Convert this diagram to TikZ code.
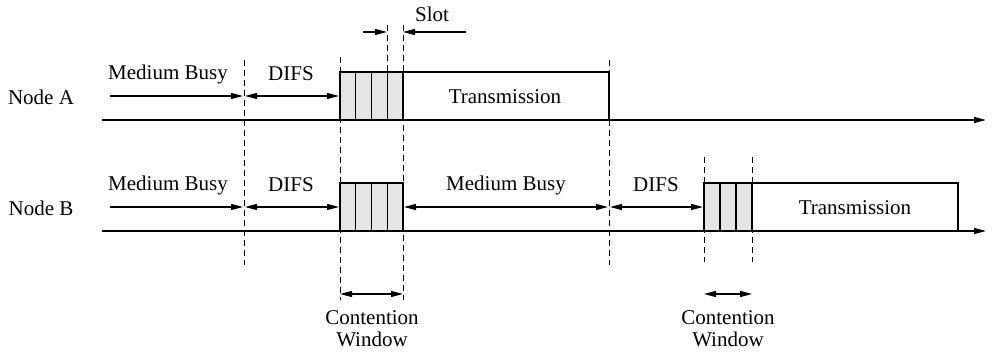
\documentclass[tikz,border=0pt]{standalone}
\usepackage{fontspec}
\setmainfont{Liberation Serif}
\usetikzlibrary{arrows.meta, positioning, calc}

\tikzset{
  tip/.style={-{Triangle[length=6pt,width=3pt]}},
  timeline/.style={line width=0.6pt, tip},
  span/.style={line width=0.6pt, {Triangle[length=6pt,width=3pt]}-{Triangle[length=6pt,width=3pt]}},
  toright/.style={line width=0.6pt, tip},
  marker/.style={line width=0.5pt, dash pattern=on 3pt off 2pt},
  slotbox/.style={draw, fill=black!10, line width=0.6pt},
  txbox/.style={draw, line width=0.6pt},
  lbl/.style={font=\fontsize{10.5}{11}\selectfont, inner sep=0pt, align=center}
}

\begin{document}
\begin{tikzpicture}[x=0.5pt, y=-0.5pt]
  \useasboundingbox (0,0) rectangle (992,352);

  % row labels
  \node[lbl] (nodeA) at (41,97) {Node A};
  \node[lbl] (nodeB) at (41,208) {Node B};

  % time axes
  \coordinate (axA0) at (102,120); \coordinate (axA1) at (986,120);
  \coordinate (axB0) at (102,231); \coordinate (axB1) at (986,231);
  \draw[timeline] (axA0) -- (axA1);
  \draw[timeline] (axB0) -- (axB1);

  % dashed markers
  \draw[marker] (244,60) -- (244,265);
  \draw[marker] (340,57) -- (340,300);
  \draw[marker] (387,25) -- (387,72);
  \draw[marker] (403,25) -- (403,300);
  \draw[marker] (609,60) -- (609,265);
  \draw[marker] (704,157) -- (704,262);
  \draw[marker] (752,157) -- (752,262);

  % Node A
  \foreach \x in {340,355.75,371.5,387.25}
    \draw[slotbox] (\x,72) rectangle ++(15.75,48);
  \draw[txbox] (403,72) rectangle (609,120);
  \node[lbl] (txA) at (505,97) {Transmission};

  \coordinate (a0) at (110,96); \coordinate (a1) at (243,96);
  \coordinate (a2) at (245,96); \coordinate (a3) at (339,96);
  \draw[toright] (a0) -- (a1);
  \draw[span] (a2) -- (a3);
  \node[lbl] (busyA) at (168,74) {Medium Busy};
  \node[lbl] (difsA) at (291,74) {DIFS};

  % slot
  \coordinate (s0) at (363,32); \coordinate (s1) at (387,32);
  \coordinate (s2) at (466,32); \coordinate (s3) at (403,32);
  \draw[toright] (s0) -- (s1);
  \draw[toright] (s2) -- (s3);
  \node[lbl] (slot) at (432,14) {Slot};

  % Node B
  \foreach \x in {340,355.75,371.5,387.25}
    \draw[slotbox] (\x,183) rectangle ++(15.75,48);
  \foreach \x in {704,720,736}
    \draw[slotbox] (\x,183) rectangle ++(16,48);
  \draw[txbox] (752,183) rectangle (958,231);
  \node[lbl] (txB) at (855,208) {Transmission};

  \coordinate (b0) at (110,207); \coordinate (b1) at (243,207);
  \coordinate (b2) at (245,207); \coordinate (b3) at (339,207);
  \coordinate (b4) at (404,207); \coordinate (b5) at (608,207);
  \coordinate (b6) at (610,207); \coordinate (b7) at (703,207);
  \draw[toright] (b0) -- (b1);
  \draw[span] (b2) -- (b3);
  \draw[span] (b4) -- (b5);
  \draw[span] (b6) -- (b7);
  \node[lbl] (busyB) at (168,185) {Medium Busy};
  \node[lbl] (difsB) at (291,185) {DIFS};
  \node[lbl] (busyB2) at (506,185) {Medium Busy};
  \node[lbl] (difsB2) at (656,185) {DIFS};

  % contention windows
  \coordinate (c0) at (340,294); \coordinate (c1) at (403,294);
  \coordinate (c2) at (704,294); \coordinate (c3) at (752,294);
  \draw[span] (c0) -- (c1);
  \draw[span] (c2) -- (c3);
  \node[lbl] (cwA) at (372,329) {Contention\\Window};
  \node[lbl] (cwB) at (728,329) {Contention\\Window};
\end{tikzpicture}
\end{document}
